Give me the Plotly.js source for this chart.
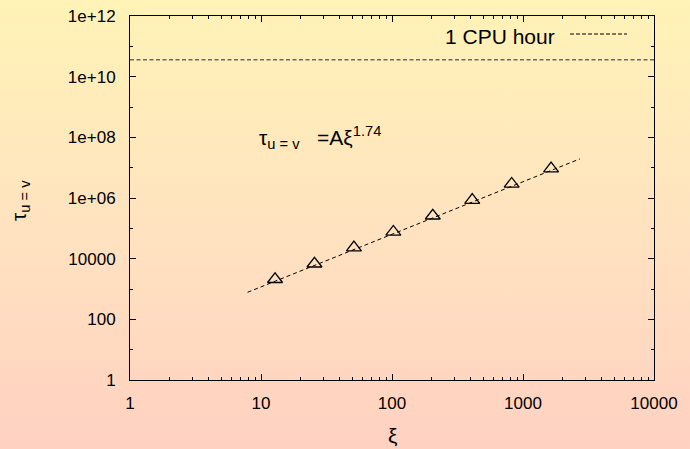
<!DOCTYPE html>
<html>
<head>
<meta charset="utf-8">
<script src="https://cdn.plot.ly/plotly-3.0.1.min.js"></script>
<style>
  html, body { margin: 0; padding: 0; }
  body { width: 690px; height: 449px; background: linear-gradient(to bottom, #FFF3B6 0%, #FFE3C0 50%, #FFD1C1 100%); }
  #chart { width: 690px; height: 449px; }
</style>
</head>
<body>
<div id="chart"></div>
<script>
// Measured data (ξ vs τ_{u=v})
var xiValues = [12.8, 25.6, 51.2, 102.4, 204.8, 409.6, 819.2, 1638.4];
var tauValues = [2100, 6800, 23000, 76000, 260000, 850000, 2900000, 9300000];

// Fitted power law τ = A ξ^1.74 (end points of the drawn segment)
var fitX = [7.9, 2720];
var fitY = [780, 1.95e7];

// 1 CPU hour reference level
var cpuHourX = [1, 10000];
var cpuHourY = [3.6e10, 3.6e10];

// Tick labels
var xTickVals = [1, 10, 100, 1000, 10000];
var xTickText = ['1', '10', '100', '1000', '10000'];
var yTickVals = [1, 100, 1e4, 1e6, 1e8, 1e10, 1e12];
var yTickText = ['1', '100', '10000', '1e+06', '1e+08', '1e+10', '1e+12'];
var yMinorVals = [10, 1000, 1e5, 1e7, 1e9, 1e11];

var font = 'Liberation Sans, Arial, sans-serif';

var traces = [
  {
    x: cpuHourX, y: cpuHourY, mode: 'lines', type: 'scatter',
    line: {color: '#6e6a60', width: 1.5, dash: '4px,2.5px'},
    showlegend: false, hoverinfo: 'skip'
  },
  {
    x: fitX, y: fitY, mode: 'lines', type: 'scatter',
    line: {color: '#000000', width: 1, dash: '4px,3px'},
    showlegend: false, hoverinfo: 'skip'
  },
  {
    x: xiValues, y: tauValues, mode: 'markers', type: 'scatter',
    marker: {symbol: 'triangle-up-open', size: 13, color: '#000000', line: {width: 1.3, color: '#000000'}},
    showlegend: false
  }
];

var layout = {
  width: 690, height: 449,
  margin: {l: 130, r: 36, t: 16, b: 69},
  paper_bgcolor: 'rgba(0,0,0,0)',
  plot_bgcolor: 'rgba(0,0,0,0)',
  font: {family: font, size: 16, color: '#000000'},
  xaxis: {
    type: 'log', range: [0, 4],
    tickvals: xTickVals, ticktext: xTickText,
    ticks: 'inside', ticklen: 6, tickwidth: 1, tickcolor: '#000',
    minor: {ticks: 'inside', ticklen: 3, tickwidth: 1, tickcolor: '#000', dtick: 'D1', showgrid: false},
    showline: true, linecolor: '#000', linewidth: 1, mirror: 'allticks',
    showgrid: false, zeroline: false,
    tickfont: {family: font, size: 17},
    ticklabelstandoff: 8
  },
  yaxis: {
    type: 'log', range: [0, 12],
    tickvals: yTickVals, ticktext: yTickText,
    ticks: 'inside', ticklen: 6, tickwidth: 1, tickcolor: '#000',
    minor: {ticks: 'inside', ticklen: 3, tickwidth: 1, tickcolor: '#000', tickvals: yMinorVals, showgrid: false},
    showline: true, linecolor: '#000', linewidth: 1, mirror: 'allticks',
    showgrid: false, zeroline: false,
    tickfont: {family: font, size: 17},
    ticklabelstandoff: 10
  },
  annotations: [
    {
      xref: 'paper', yref: 'paper', x: (392 - 130) / 524, y: (380 - 436) / 364,
      xanchor: 'center', yanchor: 'middle', showarrow: false,
      text: 'ξ', font: {family: font, size: 21}
    },
    {
      xref: 'paper', yref: 'paper', x: (20 - 130) / 524, y: (380 - 201) / 364,
      xanchor: 'center', yanchor: 'middle', showarrow: false, textangle: -90,
      text: 'τ<sub>u = v</sub>', font: {family: font, size: 21}
    },
    {
      xref: 'paper', yref: 'paper', x: (257 - 130) / 524, y: (380 - 137) / 364,
      xanchor: 'left', yanchor: 'middle', showarrow: false,
      text: 'τ<sub>u = v</sub>&nbsp;&nbsp;&nbsp;=Aξ<sup>1.74</sup>', font: {family: font, size: 21}
    },
    {
      xref: 'paper', yref: 'paper', x: (557 - 130) / 524, y: (380 - 36) / 364,
      xanchor: 'right', yanchor: 'middle', showarrow: false,
      text: '1 CPU hour', font: {family: font, size: 21}
    }
  ],
  shapes: [
    {
      type: 'line', xref: 'paper', yref: 'paper',
      x0: (570 - 130) / 524, x1: (627 - 130) / 524,
      y0: (380 - 34) / 364, y1: (380 - 34) / 364,
      line: {color: '#000', width: 1, dash: '4px,2px'}
    }
  ]
};

Plotly.newPlot('chart', traces, layout, {displayModeBar: false, staticPlot: true});
</script>
</body>
</html>
